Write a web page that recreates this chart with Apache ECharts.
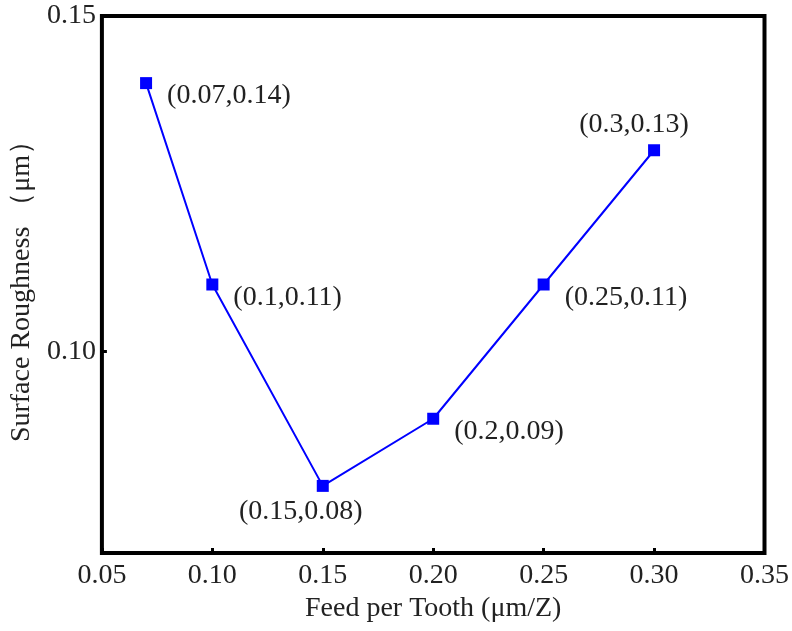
<!DOCTYPE html>
<html>
<head>
<meta charset="utf-8">
<script src="https://cdn.jsdelivr.net/npm/echarts@6/dist/echarts.min.js"></script>
<style>
  html, body { margin: 0; padding: 0; background: #fff; }
  #roughchart { width: 792px; height: 631px; }
</style>
</head>
<body>
<div id="roughchart"></div>
<script>
// feed per tooth (um/Z) and measured roughness (um)
var feedValues = [0.07, 0.1, 0.15, 0.2, 0.25, 0.3];
var roughValues = [0.14, 0.11, 0.08, 0.09, 0.11, 0.13];
var yTickValues = [0.10, 0.15];

// where each point label sits
var labelSpots = ['right', 'right', 'bottom', 'right', 'right', 'top'];

var dom = document.getElementById('roughchart');
var myChart = echarts.init(dom, null, { renderer: 'canvas' });

var serif = '"Liberation Serif", "Times New Roman", serif';

var pts = feedValues.map(function (x, i) {
  var spot = labelSpots[i];
  var lbl = { position: spot };
  if (spot === 'right') {
    lbl.distance = 15;
    lbl.offset = [0, 13];
  } else if (spot === 'bottom') {
    lbl.distance = 6;
    lbl.offset = [-22, 0];
  } else {
    lbl.distance = 6;
    lbl.offset = [-20, 0];
  }
  return { value: [x, roughValues[i]], label: lbl };
});

var option = {
  animation: false,
  grid: {
    left: 97,
    right: 25,
    top: 16,
    bottom: 78,
    show: true,
    borderColor: '#000',
    borderWidth: 4,
    containLabel: false
  },
  xAxis: {
    type: 'value',
    min: 0.05,
    max: 0.35,
    interval: 0.05,
    name: 'Feed per Tooth (μm/Z)',
    nameLocation: 'center',
    nameGap: 42,
    nameTextStyle: { color: '#222', fontSize: 28, fontFamily: serif },
    axisLine: { show: false },
    splitLine: { show: false },
    axisTick: { show: true, inside: true, length: 5, lineStyle: { color: '#000', width: 3 } },
    axisLabel: {
      color: '#222',
      fontSize: 28,
      fontFamily: serif,
      margin: 9,
      formatter: function (v) { return v.toFixed(2); }
    }
  },
  yAxis: {
    type: 'value',
    min: 0.07,
    max: 0.15,
    name: 'Surface Roughness （μm）',
    nameLocation: 'center',
    nameGap: 60,
    nameTextStyle: { color: '#222', fontSize: 28, fontFamily: serif },
    axisLine: { show: false },
    splitLine: { show: false },
    axisTick: {
      show: true, inside: true, length: 5,
      customValues: yTickValues,
      lineStyle: { color: '#000', width: 3 }
    },
    axisLabel: {
      color: '#222',
      fontSize: 28,
      fontFamily: serif,
      margin: 6,
      customValues: yTickValues,
      formatter: function (v) { return v.toFixed(2); }
    }
  },
  series: [{
    type: 'line',
    data: pts,
    symbol: 'rect',
    symbolSize: 12,
    lineStyle: { color: '#0000FF', width: 2 },
    itemStyle: { color: '#0000FF' },
    label: {
      show: true,
      color: '#222',
      fontSize: 28,
      fontFamily: serif,
      formatter: function (p) {
        return '(' + p.value[0] + ',' + p.value[1] + ')';
      }
    }
  }]
};

myChart.setOption(option);
window.addEventListener('resize', myChart.resize);
</script>
</body>
</html>
